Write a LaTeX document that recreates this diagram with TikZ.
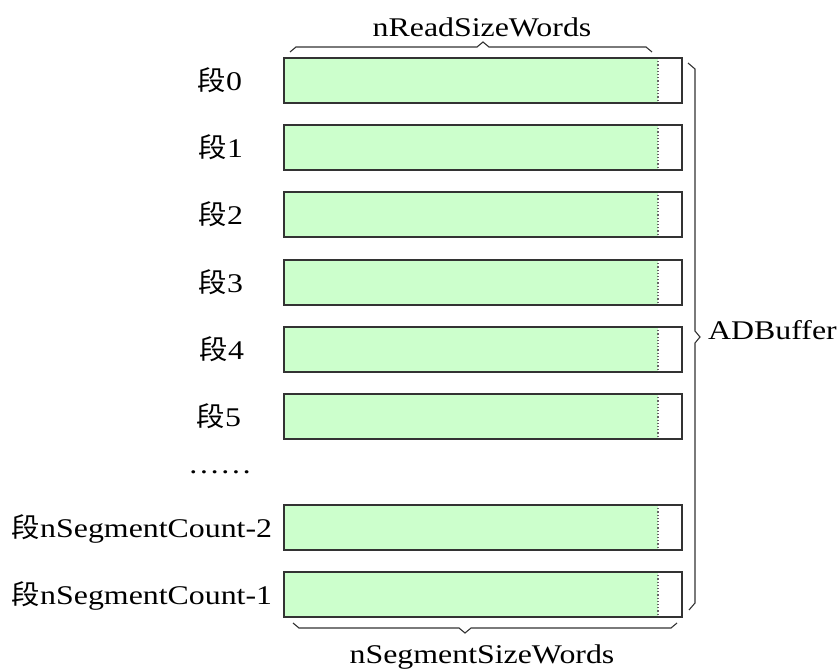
\documentclass[tikz,border=0pt]{standalone}
\usepackage{fontspec}
\setmainfont[FakeStretch=1.18]{Liberation Serif}
\newfontfamily\cjk[FakeStretch=1.05]{Noto Sans CJK SC}
\definecolor{segfill}{HTML}{CCFFCC}
\definecolor{edge}{HTML}{333333}
\begin{document}
\begin{tikzpicture}[x=1pt,y=-1pt,
  segbox/.style={draw=edge, line width=1.3pt, fill=white, minimum width=398pt, minimum height=45pt,
    inner sep=0pt, outer sep=0pt, anchor=north west,
    path picture={
      \fill[segfill] (path picture bounding box.north west) rectangle ([xshift=374pt]path picture bounding box.south west);
      \draw[black!60, dotted, line width=1.2pt] ([xshift=374pt]path picture bounding box.north west) -- ([xshift=374pt]path picture bounding box.south west);
    }},
  lbl/.style={font=\fontsize{27}{32}\selectfont, inner sep=0pt, anchor=base},
  bracket/.style={draw=edge, line width=1.1pt}]
\useasboundingbox (0,0) rectangle (840,669);
% segments
\node[segbox] (r0) at (284,58) {};
\node[segbox] (r1) at (284,125) {};
\node[segbox] (r2) at (284,192) {};
\node[segbox] (r3) at (284,260) {};
\node[segbox] (r4) at (284,327) {};
\node[segbox] (r5) at (284,394) {};
\node[segbox] (r6) at (284,505) {};
\node[segbox] (r7) at (284,572) {};
% labels
\node[lbl] (l0) at (220,90) {{\cjk 段}0};
\node[lbl] (l1) at (221,157) {{\cjk 段}1};
\node[lbl] (l2) at (221,224) {{\cjk 段}2};
\node[lbl] (l3) at (221,292) {{\cjk 段}3};
\node[lbl] (l4) at (222,359) {{\cjk 段}4};
\node[lbl] (l5) at (219,426) {{\cjk 段}5};
\node[lbl] (dots) at (220,473) {……};
\node[lbl] (l6) at (142,537) {{\cjk 段}nSegmentCount-2};
\node[lbl] (l7) at (142,604) {{\cjk 段}nSegmentCount-1};
% brackets
\draw[bracket] (290,52) -- (296,47) -- (477,47) -- (483,42) -- (489,47) -- (646,47) -- (652,52);
\node[lbl] (top) at (482,37) {nReadSizeWords};
\draw[bracket] (688,63) -- (695,69) -- (695,331) -- (700,337) -- (695,343) -- (695,603) -- (689,610);
\node[lbl, anchor=base west] (adb) at (708,339) {ADBuffer};
\draw[bracket] (293,623) -- (299,628) -- (459,628) -- (465,633) -- (471,628) -- (671,628) -- (677,623);
\node[lbl] (bot) at (482,663) {nSegmentSizeWords};
\end{tikzpicture}
\end{document}
